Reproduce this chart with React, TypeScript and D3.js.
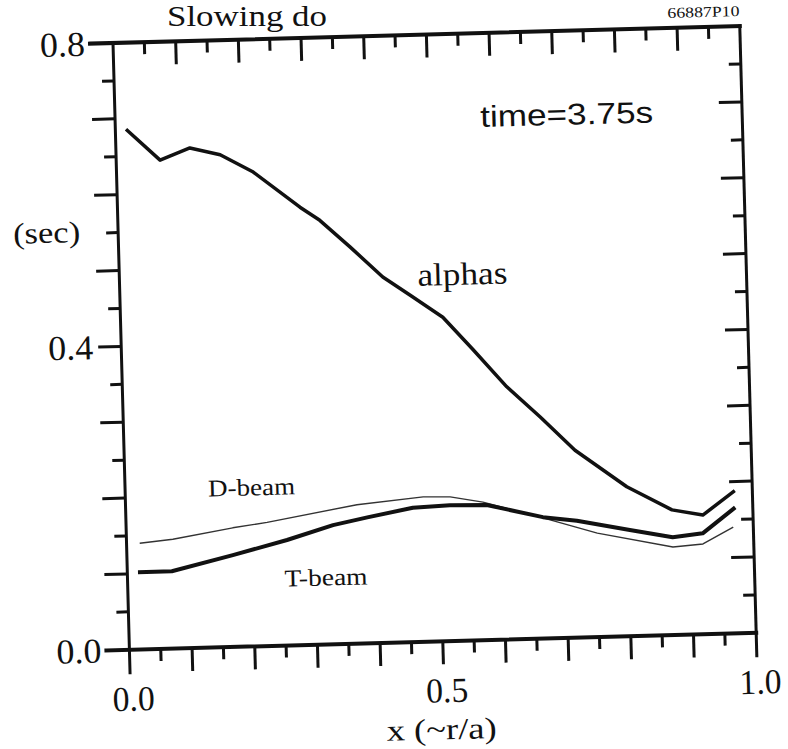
import React from "react";
import * as d3 from "d3";

// ---- data ----
const alphaX = [0.017, 0.070, 0.118, 0.166, 0.218, 0.291, 0.322, 0.369, 0.420, 0.463, 0.514, 0.561, 0.613, 0.665, 0.719, 0.800, 0.871, 0.920, 0.972];
const alphaY = [0.686, 0.644, 0.659, 0.649, 0.625, 0.577, 0.559, 0.523, 0.482, 0.457, 0.427, 0.383, 0.333, 0.292, 0.247, 0.197, 0.165, 0.157, 0.188];

const tBeamX = [0.017, 0.071, 0.169, 0.256, 0.330, 0.385, 0.458, 0.517, 0.576, 0.665, 0.719, 0.803, 0.871, 0.919, 0.972];
const tBeamY = [0.102, 0.102, 0.121, 0.139, 0.157, 0.166, 0.177, 0.179, 0.178, 0.160, 0.154, 0.140, 0.129, 0.133, 0.166];

const dBeamX = [0.021, 0.074, 0.170, 0.225, 0.369, 0.475, 0.518, 0.570, 0.665, 0.751, 0.871, 0.919, 0.968];
const dBeamY = [0.140, 0.144, 0.157, 0.163, 0.183, 0.191, 0.190, 0.182, 0.159, 0.137, 0.116, 0.119, 0.140];

const xTickLabels = ["0.0", "0.5", "1.0"];
const xTickLabelValues = [0, 0.5, 1.0];
const yTickLabels = ["0.0", "0.4", "0.8"];
const yTickLabelValues = [0, 0.4, 0.8];

const W = 627;
const H = 607;
const SERIF = "'Liberation Serif', 'DejaVu Serif', serif";
const SANS = "'Liberation Sans', Arial, sans-serif";

export default function App() {
  const x = d3.scaleLinear().domain([0, 1]).range([0, W]);
  const y = d3.scaleLinear().domain([0, 0.8]).range([H, 0]);

  const line = d3
    .line<[number, number]>()
    .x((d) => x(d[0]))
    .y((d) => y(d[1]));

  const alpha = line(alphaX.map((v, i) => [v, alphaY[i]]) as [number, number][]) || "";
  const tBeam = line(tBeamX.map((v, i) => [v, tBeamY[i]]) as [number, number][]) || "";
  const dBeam = line(dBeamX.map((v, i) => [v, dBeamY[i]]) as [number, number][]) || "";

  const xTicks = d3.range(1, 20).map((i) => i * 0.05);
  const yTicks = d3.range(1, 16).map((i) => i * 0.05);
  const isMajor = (v: number) => Math.abs(Math.round(v * 10) - v * 10) < 1e-6;
  const LONG = 23;
  const SHORT = 12;

  return (
    <svg
      width={788}
      height={749}
      style={{ position: "absolute", left: 0, top: 0, background: "#fff" }}
    >
      <rect x={0} y={0} width={788} height={749} fill="#fff" />
      <text
        x={167}
        y={26}
        fontFamily={SERIF}
        fontSize={30}
        fill="#111"
        textLength={160}
        lengthAdjust="spacingAndGlyphs"
      >
        Slowing do
      </text>
      <g transform="translate(113,43) rotate(-1.55)">
        {/* frame */}
        <g stroke="#111" strokeLinecap="square" fill="none">
          <line x1={-LONG} y1={0} x2={W} y2={0} strokeWidth={4} />
          <line x1={-LONG} y1={H} x2={W} y2={H} strokeWidth={4} />
          <line x1={0} y1={0} x2={0} y2={H + LONG} strokeWidth={3} />
          <line x1={W} y1={0} x2={W} y2={H + LONG} strokeWidth={3} />
        </g>
        {/* x ticks: top inward, bottom outward; y ticks: left outward, right inward */}
        <g stroke="#111" strokeWidth={3}>
          {xTicks.map((v, i) => {
            const L = isMajor(v) ? LONG : SHORT;
            return (
              <g key={"xt" + i}>
                <line x1={x(v)} x2={x(v)} y1={0} y2={L} />
                <line x1={x(v)} x2={x(v)} y1={H} y2={H + L} />
              </g>
            );
          })}
          {yTicks.map((v, i) => {
            const L = isMajor(v) ? LONG : SHORT;
            return (
              <g key={"yt" + i}>
                <line x1={-L} x2={0} y1={y(v)} y2={y(v)} />
                <line x1={W - L} x2={W} y1={y(v)} y2={y(v)} />
              </g>
            );
          })}
        </g>
        {/* tick labels */}
        <g fontFamily={SERIF} fontSize={35} fill="#111">
          {yTickLabels.map((t, i) => (
            <text
              key={"yl" + i}
              x={-28}
              y={y(yTickLabelValues[i]) + 12}
              textAnchor="end"
              textLength={45}
              lengthAdjust="spacingAndGlyphs"
            >
              {t}
            </text>
          ))}
          {xTickLabels.map((t, i) => (
            <text
              key={"xl" + i}
              x={x(xTickLabelValues[i]) + 3}
              y={H + 61}
              textAnchor="middle"
              textLength={42}
              lengthAdjust="spacingAndGlyphs"
            >
              {t}
            </text>
          ))}
        </g>
        <text
          x={-38}
          y={198}
          textAnchor="end"
          fontFamily={SERIF}
          fontSize={30}
          fill="#111"
          textLength={67}
          lengthAdjust="spacingAndGlyphs"
        >
          (sec)
        </text>
        <text
          x={310}
          y={H + 98}
          textAnchor="middle"
          fontFamily={SERIF}
          fontSize={30}
          fill="#111"
          textLength={110}
          lengthAdjust="spacingAndGlyphs"
        >
          x (~r/a)
        </text>
        <text
          x={555}
          y={-10}
          fontFamily={SERIF}
          fontSize={15}
          fill="#111"
          textLength={72}
          lengthAdjust="spacingAndGlyphs"
        >
          66887P10
        </text>
        {/* curves */}
        <path d={dBeam} fill="none" stroke="#333" strokeWidth={1.4} strokeLinejoin="round" />
        <path d={tBeam} fill="none" stroke="#111" strokeWidth={4} strokeLinejoin="round" />
        <path d={alpha} fill="none" stroke="#111" strokeWidth={3.5} strokeLinejoin="round" />
        {/* annotations */}
        <text
          x={365}
          y={94}
          fontFamily={SANS}
          fontSize={30}
          fill="#111"
          textLength={173}
          lengthAdjust="spacingAndGlyphs"
        >
          time=3.75s
        </text>
        <text
          x={298}
          y={251}
          fontFamily={SERIF}
          fontSize={32}
          fill="#111"
          textLength={90}
          lengthAdjust="spacingAndGlyphs"
        >
          alphas
        </text>
        <text
          x={83}
          y={456}
          fontFamily={SERIF}
          fontSize={24}
          fill="#111"
          textLength={87}
          lengthAdjust="spacingAndGlyphs"
        >
          D-beam
        </text>
        <text
          x={157}
          y={548}
          fontFamily={SERIF}
          fontSize={24}
          fill="#111"
          textLength={83}
          lengthAdjust="spacingAndGlyphs"
        >
          T-beam
        </text>
      </g>
    </svg>
  );
}
